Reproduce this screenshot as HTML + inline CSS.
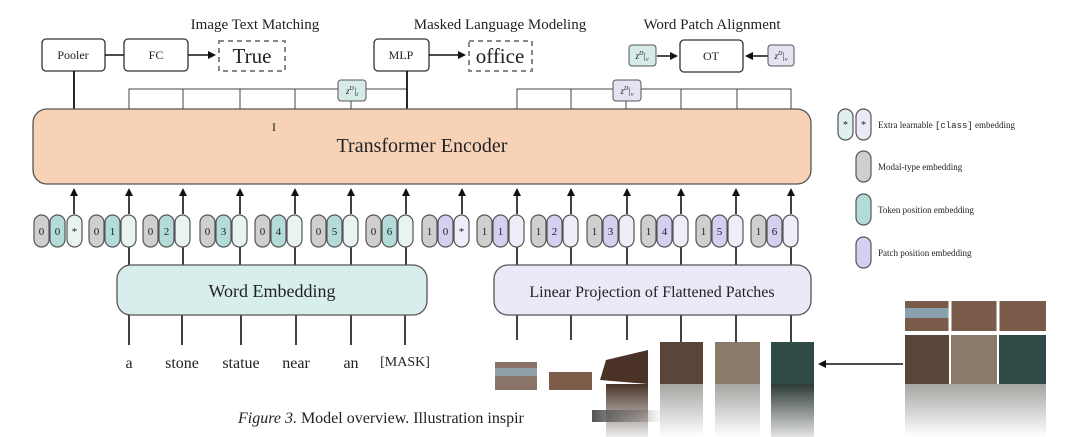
<!DOCTYPE html>
<html><head><meta charset="utf-8"><style>
html,body{margin:0;padding:0;background:#fff;}
svg{display:block;}
text{font-family:"Liberation Serif",serif;fill:#222;}
</style></head><body>
<svg width="1080" height="437" viewBox="0 0 1080 437" xmlns="http://www.w3.org/2000/svg">
<defs>
<marker id="ar" markerWidth="8" markerHeight="8" refX="6" refY="4" orient="auto" markerUnits="userSpaceOnUse"><path d="M0,0 L8,4 L0,8 z" fill="#111"/></marker>
<linearGradient id="sm1" x1="0" y1="0" x2="0" y2="1"><stop offset="0" stop-color="#a5a5a2"/><stop offset="1" stop-color="#fff"/></linearGradient>
<linearGradient id="sm2" x1="0" y1="0" x2="0" y2="1"><stop offset="0" stop-color="#2c3a38"/><stop offset="1" stop-color="#e5e5e5"/></linearGradient>
<linearGradient id="sm3" x1="0" y1="0" x2="0" y2="1"><stop offset="0" stop-color="#4a3528"/><stop offset="1" stop-color="#eee"/></linearGradient>
<linearGradient id="sm4" x1="0" y1="0" x2="1" y2="0"><stop offset="0" stop-color="#555"/><stop offset="1" stop-color="#555" stop-opacity="0"/></linearGradient>
</defs>
<text x="255" y="29" font-size="15" text-anchor="middle">Image Text Matching</text>
<text x="500" y="29" font-size="15" text-anchor="middle">Masked Language Modeling</text>
<text x="712" y="29" font-size="15" text-anchor="middle">Word Patch Alignment</text>
<g stroke="#333" stroke-width="1.3" fill="#fff">
<rect x="42" y="39" width="63" height="32" rx="4"/>
<rect x="124" y="39" width="64" height="32" rx="4"/>
<rect x="374" y="39" width="55" height="32" rx="4"/>
<rect x="680" y="40" width="63" height="32" rx="4"/>
</g>
<text x="73" y="59" font-size="12" text-anchor="middle">Pooler</text>
<text x="156" y="59" font-size="12" text-anchor="middle">FC</text>
<text x="401" y="59" font-size="12" text-anchor="middle">MLP</text>
<text x="711" y="60" font-size="12" text-anchor="middle">OT</text>
<rect x="219" y="41" width="66" height="30" fill="none" stroke="#888" stroke-width="2" stroke-dasharray="5,4"/>
<rect x="469" y="41" width="63" height="30" fill="none" stroke="#888" stroke-width="2" stroke-dasharray="5,4"/>
<text x="252" y="63" font-size="21" text-anchor="middle">True</text>
<text x="500" y="63" font-size="21" text-anchor="middle">office</text>
<g stroke="#111" stroke-width="1.6">
<line x1="105" y1="55" x2="124" y2="55"/>
<line x1="188" y1="55" x2="214" y2="55" marker-end="url(#ar)"/>
<line x1="429" y1="55" x2="464" y2="55" marker-end="url(#ar)"/>
<line x1="657" y1="56" x2="676" y2="56" marker-end="url(#ar)"/>
<line x1="768" y1="56" x2="747" y2="56" marker-end="url(#ar)"/>
</g>
<rect x="629" y="45" width="27" height="21" rx="3" fill="#d6ebe7" stroke="#555"/>
<text x="642" y="59" font-size="9" text-anchor="middle" font-style="italic">z<tspan font-size="6" dy="-4">D</tspan><tspan dy="4">|</tspan><tspan font-size="6" dy="2">v</tspan></text>
<rect x="768" y="45" width="26" height="21" rx="3" fill="#e4e2f3" stroke="#555"/>
<text x="781" y="59" font-size="9" text-anchor="middle" font-style="italic">z<tspan font-size="6" dy="-4">D</tspan><tspan dy="4">|</tspan><tspan font-size="6" dy="2">v</tspan></text>
<g stroke="#444" stroke-width="1" fill="none">
<polyline points="129,109 129,89 407,89"/>
<line x1="183" y1="89" x2="183" y2="109"/><line x1="240" y1="89" x2="240" y2="109"/><line x1="295" y1="89" x2="295" y2="109"/><line x1="351" y1="89" x2="351" y2="109"/>
<polyline points="517,109 517,89 791,89 791,109"/>
<line x1="571" y1="89" x2="571" y2="109"/><line x1="626" y1="89" x2="626" y2="109"/><line x1="681" y1="89" x2="681" y2="109"/><line x1="737" y1="89" x2="737" y2="109"/>
</g>
<g stroke="#111" stroke-width="1.8"><line x1="74" y1="71" x2="74" y2="109"/><line x1="407" y1="71" x2="407" y2="109"/></g>
<rect x="338" y="80" width="28" height="21" rx="3" fill="#d6ebe7" stroke="#555"/>
<text x="352" y="94" font-size="9" text-anchor="middle" font-style="italic">z<tspan font-size="6" dy="-4">D</tspan><tspan dy="4">|</tspan><tspan font-size="6" dy="2">t</tspan></text>
<rect x="613" y="80" width="28" height="21" rx="3" fill="#e4e2f3" stroke="#555"/>
<text x="627" y="94" font-size="9" text-anchor="middle" font-style="italic">z<tspan font-size="6" dy="-4">D</tspan><tspan dy="4">|</tspan><tspan font-size="6" dy="2">v</tspan></text>
<rect x="33" y="109" width="778" height="75" rx="14" fill="#f7d2b7" stroke="#555" stroke-width="1.3"/>
<text x="422" y="152" font-size="20" text-anchor="middle">Transformer Encoder</text>
<text x="274" y="131" font-size="12" text-anchor="middle" fill="#444">I</text>
<g stroke="#111" stroke-width="1.6">
<line x1="74" y1="214" x2="74" y2="190" marker-end="url(#ar)"/>
<line x1="129" y1="214" x2="129" y2="190" marker-end="url(#ar)"/>
<line x1="183" y1="214" x2="183" y2="190" marker-end="url(#ar)"/>
<line x1="240" y1="214" x2="240" y2="190" marker-end="url(#ar)"/>
<line x1="295" y1="214" x2="295" y2="190" marker-end="url(#ar)"/>
<line x1="351" y1="214" x2="351" y2="190" marker-end="url(#ar)"/>
<line x1="406" y1="214" x2="406" y2="190" marker-end="url(#ar)"/>
<line x1="462" y1="214" x2="462" y2="190" marker-end="url(#ar)"/>
<line x1="517" y1="214" x2="517" y2="190" marker-end="url(#ar)"/>
<line x1="571" y1="214" x2="571" y2="190" marker-end="url(#ar)"/>
<line x1="627" y1="214" x2="627" y2="190" marker-end="url(#ar)"/>
<line x1="681" y1="214" x2="681" y2="190" marker-end="url(#ar)"/>
<line x1="736" y1="214" x2="736" y2="190" marker-end="url(#ar)"/>
<line x1="791" y1="214" x2="791" y2="190" marker-end="url(#ar)"/>
<line x1="129" y1="247" x2="129" y2="265"/><line x1="183" y1="247" x2="183" y2="265"/><line x1="240" y1="247" x2="240" y2="265"/><line x1="295" y1="247" x2="295" y2="265"/><line x1="351" y1="247" x2="351" y2="265"/><line x1="406" y1="247" x2="406" y2="265"/>
<line x1="517" y1="247" x2="517" y2="265"/><line x1="571" y1="247" x2="571" y2="265"/><line x1="627" y1="247" x2="627" y2="265"/><line x1="681" y1="247" x2="681" y2="265"/><line x1="736" y1="247" x2="736" y2="265"/><line x1="791" y1="247" x2="791" y2="265"/>
<line x1="129" y1="315" x2="129" y2="345"/><line x1="182" y1="315" x2="182" y2="345"/><line x1="241" y1="315" x2="241" y2="345"/><line x1="296" y1="315" x2="296" y2="345"/><line x1="351" y1="315" x2="351" y2="345"/><line x1="405" y1="315" x2="405" y2="345"/>
<line x1="517" y1="315" x2="517" y2="340"/><line x1="571" y1="315" x2="571" y2="340"/><line x1="627" y1="315" x2="627" y2="340"/><line x1="681" y1="315" x2="681" y2="342"/><line x1="736" y1="315" x2="736" y2="342"/><line x1="791" y1="315" x2="791" y2="342"/>
</g>
<g stroke="#555" stroke-width="1.2">
<g fill="#cfcfcf"><rect x="34" y="215" width="15" height="32" rx="7.5"/><rect x="89" y="215" width="15" height="32" rx="7.5"/><rect x="143" y="215" width="15" height="32" rx="7.5"/><rect x="200" y="215" width="15" height="32" rx="7.5"/><rect x="255" y="215" width="15" height="32" rx="7.5"/><rect x="311" y="215" width="15" height="32" rx="7.5"/><rect x="366" y="215" width="15" height="32" rx="7.5"/><rect x="422" y="215" width="15" height="32" rx="7.5"/><rect x="477" y="215" width="15" height="32" rx="7.5"/><rect x="531" y="215" width="15" height="32" rx="7.5"/><rect x="587" y="215" width="15" height="32" rx="7.5"/><rect x="641" y="215" width="15" height="32" rx="7.5"/><rect x="696" y="215" width="15" height="32" rx="7.5"/><rect x="751" y="215" width="15" height="32" rx="7.5"/></g>
<g fill="#b3dcd8"><rect x="50" y="215" width="15" height="32" rx="7.5"/><rect x="105" y="215" width="15" height="32" rx="7.5"/><rect x="159" y="215" width="15" height="32" rx="7.5"/><rect x="216" y="215" width="15" height="32" rx="7.5"/><rect x="271" y="215" width="15" height="32" rx="7.5"/><rect x="327" y="215" width="15" height="32" rx="7.5"/><rect x="382" y="215" width="15" height="32" rx="7.5"/></g>
<g fill="#d5d0f0"><rect x="438" y="215" width="15" height="32" rx="7.5"/><rect x="493" y="215" width="15" height="32" rx="7.5"/><rect x="547" y="215" width="15" height="32" rx="7.5"/><rect x="603" y="215" width="15" height="32" rx="7.5"/><rect x="657" y="215" width="15" height="32" rx="7.5"/><rect x="712" y="215" width="15" height="32" rx="7.5"/><rect x="767" y="215" width="15" height="32" rx="7.5"/></g>
<g fill="#e8f3f2"><rect x="67" y="215" width="15" height="32" rx="7.5"/><rect x="121" y="215" width="15" height="32" rx="7.5"/><rect x="175" y="215" width="15" height="32" rx="7.5"/><rect x="232" y="215" width="15" height="32" rx="7.5"/><rect x="287" y="215" width="15" height="32" rx="7.5"/><rect x="343" y="215" width="15" height="32" rx="7.5"/><rect x="398" y="215" width="15" height="32" rx="7.5"/></g>
<g fill="#efedf8"><rect x="454" y="215" width="15" height="32" rx="7.5"/><rect x="509" y="215" width="15" height="32" rx="7.5"/><rect x="563" y="215" width="15" height="32" rx="7.5"/><rect x="619" y="215" width="15" height="32" rx="7.5"/><rect x="673" y="215" width="15" height="32" rx="7.5"/><rect x="728" y="215" width="15" height="32" rx="7.5"/><rect x="783" y="215" width="15" height="32" rx="7.5"/></g>
</g>
<g font-size="11" text-anchor="middle" fill="#444">
<text x="41.5" y="235">0</text><text x="57.5" y="235">0</text><text x="74.5" y="235">*</text>
<text x="96.5" y="235">0</text><text x="112.5" y="235">1</text>
<text x="150.5" y="235">0</text><text x="166.5" y="235">2</text>
<text x="207.5" y="235">0</text><text x="223.5" y="235">3</text>
<text x="262.5" y="235">0</text><text x="278.5" y="235">4</text>
<text x="318.5" y="235">0</text><text x="334.5" y="235">5</text>
<text x="373.5" y="235">0</text><text x="389.5" y="235">6</text>
<text x="429.5" y="235">1</text><text x="445.5" y="235">0</text><text x="461.5" y="235">*</text>
<text x="484.5" y="235">1</text><text x="500.5" y="235">1</text>
<text x="538.5" y="235">1</text><text x="554.5" y="235">2</text>
<text x="594.5" y="235">1</text><text x="610.5" y="235">3</text>
<text x="648.5" y="235">1</text><text x="664.5" y="235">4</text>
<text x="703.5" y="235">1</text><text x="719.5" y="235">5</text>
<text x="758.5" y="235">1</text><text x="774.5" y="235">6</text>
</g>
<rect x="117" y="265" width="310" height="50" rx="14" fill="#d8eeec" stroke="#555" stroke-width="1.3"/>
<text x="272" y="297" font-size="18" text-anchor="middle">Word Embedding</text>
<rect x="494" y="265" width="317" height="50" rx="14" fill="#ebe9f7" stroke="#555" stroke-width="1.3"/>
<text x="652" y="297" font-size="16" text-anchor="middle">Linear Projection of Flattened Patches</text>
<g font-size="16" text-anchor="middle">
<text x="129" y="368">a</text><text x="182" y="368">stone</text><text x="241" y="368">statue</text><text x="296" y="368">near</text><text x="351" y="368">an</text>
<text x="405" y="366" font-family="Liberation Mono,monospace" font-size="14">[MASK]</text>
</g>
<rect x="495" y="362" width="42" height="28" fill="#8a7468"/><rect x="495" y="368" width="42" height="8" fill="#8fa0a8"/>
<rect x="549" y="372" width="43" height="18" fill="#7d5d4a"/>
<polygon points="606,360 648,350 648,384 600,380" fill="#4a3226"/>
<rect x="606" y="384" width="42" height="53" fill="url(#sm3)"/>
<rect x="660" y="342" width="43" height="42" fill="#5a4638"/><rect x="660" y="384" width="43" height="53" fill="url(#sm1)"/>
<rect x="715" y="342" width="45" height="42" fill="#8a7a6a"/><rect x="715" y="384" width="45" height="53" fill="url(#sm1)"/>
<rect x="771" y="342" width="43" height="42" fill="#2e4b48"/><rect x="771" y="384" width="43" height="53" fill="url(#sm2)"/>
<rect x="905" y="301" width="141" height="30" fill="#7a5a48"/>
<rect x="905" y="308" width="44" height="10" fill="#8aa0ac"/>
<line x1="950" y1="301" x2="950" y2="384" stroke="#fff" stroke-width="3"/>
<line x1="998" y1="301" x2="998" y2="384" stroke="#fff" stroke-width="3"/>
<line x1="905" y1="333" x2="1046" y2="333" stroke="#fff" stroke-width="3"/>
<rect x="905" y="335" width="44" height="49" fill="#5a4638"/>
<rect x="951" y="335" width="46" height="49" fill="#8a7a6a"/>
<rect x="999" y="335" width="47" height="49" fill="#2e4b48"/>
<rect x="905" y="384" width="141" height="53" fill="url(#sm1)"/>
<line x1="903" y1="364" x2="820" y2="364" stroke="#111" stroke-width="1.6" marker-end="url(#ar)"/>
<g stroke="#555" stroke-width="1.2">
<rect x="838" y="109" width="15" height="31" rx="7.5" fill="#e0f0ee"/><rect x="856" y="109" width="15" height="31" rx="7.5" fill="#ebe9f7"/>
<rect x="856" y="151" width="15" height="31" rx="7.5" fill="#cfcfcf"/>
<rect x="856" y="194" width="15" height="31" rx="7.5" fill="#b3dcd8"/>
<rect x="856" y="237" width="15" height="31" rx="7.5" fill="#d5d0f0"/>
</g>
<text x="845.5" y="128" font-size="10" text-anchor="middle">*</text><text x="863.5" y="128" font-size="10" text-anchor="middle">*</text>
<g font-size="9" fill="#444">
<text x="878" y="128">Extra learnable <tspan font-family="Liberation Mono,monospace">[class]</tspan> embedding</text>
<text x="878" y="170">Modal-type embedding</text>
<text x="878" y="213">Token position embedding</text>
<text x="878" y="256">Patch position embedding</text>
</g>
<text x="238" y="423" font-size="16"><tspan font-style="italic">Figure 3.</tspan> Model overview. Illustration inspir</text>
<rect x="592" y="410" width="70" height="12" fill="url(#sm4)"/>
</svg>
</body></html>
